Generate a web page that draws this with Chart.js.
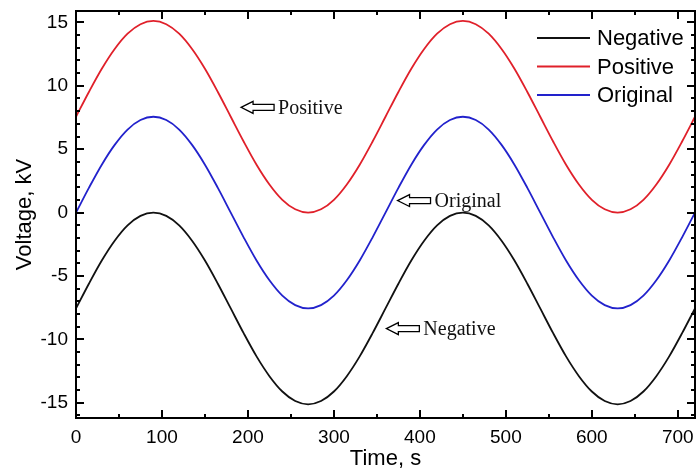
<!DOCTYPE html>
<html>
<head>
<meta charset="utf-8">
<script src="https://cdn.jsdelivr.net/npm/chart.js@4.4.1/dist/chart.umd.min.js"></script>
<style>
html,body{margin:0;padding:0;background:#fff;}
#wrap{width:698px;height:472px;}
</style>
</head>
<body>
<div id="wrap"><canvas id="c" width="698" height="472"></canvas></div>
<script>
// Time axis (s), sampled every 15 s
const times = [0,15,30,45,60,75,90,105,120,135,150,165,180,195,210,225,240,255,270,285,300,315,330,345,
  360,375,390,405,420,435,450,465,480,495,510,525,540,555,570,585,600,615,630,645,660,675,690,705,720];

const original = [0,1.95,3.78,5.34,6.55,7.3,7.56,7.3,6.55,5.34,3.78,1.95,0,-1.95,-3.78,-5.34,-6.55,-7.3,-7.56,-7.3,-6.55,-5.34,-3.78,-1.95,
  0,1.95,3.78,5.34,6.55,7.3,7.56,7.3,6.55,5.34,3.78,1.95,0,-1.95,-3.78,-5.34,-6.55,-7.3,-7.56,-7.3,-6.55,-5.34,-3.78,-1.95,0];

const positive = [7.56,9.51,11.34,12.9,14.11,14.86,15.12,14.86,14.11,12.9,11.34,9.51,7.56,5.61,3.78,2.22,1.01,0.26,0,0.26,1.01,2.22,3.78,5.61,
  7.56,9.51,11.34,12.9,14.11,14.86,15.12,14.86,14.11,12.9,11.34,9.51,7.56,5.61,3.78,2.22,1.01,0.26,0,0.26,1.01,2.22,3.78,5.61,7.56];

const negative = [-7.56,-5.61,-3.78,-2.22,-1.01,-0.26,0,-0.26,-1.01,-2.22,-3.78,-5.61,-7.56,-9.51,-11.34,-12.9,-14.11,-14.86,-15.12,-14.86,-14.11,-12.9,-11.34,-9.51,
  -7.56,-5.61,-3.78,-2.22,-1.01,-0.26,0,-0.26,-1.01,-2.22,-3.78,-5.61,-7.56,-9.51,-11.34,-12.9,-14.11,-14.86,-15.12,-14.86,-14.11,-12.9,-11.34,-9.51,-7.56];

const seriesNames = ['Negative','Positive','Original'];
const xTickValues = [0,100,200,300,400,500,600,700];
const yTickValues = [-15,-10,-5,0,5,10,15];

// annotation labels: [text, x, y] in data units (arrow tip position)
const annotations = [
  ['Positive', 192, 8.3],
  ['Original', 374, 0.95],
  ['Negative', 361, -9.15]
];

const colors = {Negative:'#111111', Positive:'#e0202a', Original:'#2222cc'};
const seriesData = {Negative: negative, Positive: positive, Original: original};

const datasets = seriesNames.map(n => ({
  label: n,
  data: times.map((t,i)=>({x:t, y:seriesData[n][i]})),
  borderColor: colors[n],
  borderWidth: 1.8,
  pointRadius: 0,
  cubicInterpolationMode: 'monotone',
  fill: false
}));

const frameTicks = {
  id: 'frameTicks',
  afterDatasetsDraw(chart) {
    const {ctx, chartArea: a, scales: {x, y}} = chart;
    ctx.save();
    ctx.strokeStyle = '#000';
    ctx.lineWidth = 2;
    ctx.strokeRect(a.left, a.top, a.right - a.left, a.bottom - a.top);
    ctx.lineWidth = 2;
    const major = 8, minor = 4;
    for (let v = 0; v <= 720; v += 50) {
      const px = Math.round(x.getPixelForValue(v)) ;
      const len = (v % 100 === 0) ? major : minor;
      ctx.beginPath();
      ctx.moveTo(px, a.bottom); ctx.lineTo(px, a.bottom - len);
      ctx.moveTo(px, a.top); ctx.lineTo(px, a.top + len);
      ctx.stroke();
    }
    for (let v = -16; v <= 15; v += 1) {
      const py = Math.round(y.getPixelForValue(v));
      const len = (v % 5 === 0) ? major : minor;
      ctx.beginPath();
      ctx.moveTo(a.left, py); ctx.lineTo(a.left + len, py);
      ctx.moveTo(a.right, py); ctx.lineTo(a.right - len, py);
      ctx.stroke();
    }
    // legend
    ctx.font = '22px "Liberation Sans", Arial, sans-serif';
    ctx.textBaseline = 'middle';
    ctx.textAlign = 'left';
    seriesNames.forEach((n, i) => {
      const ly = 38 + i * 28.5;
      ctx.strokeStyle = colors[n];
      ctx.lineWidth = 1.8;
      ctx.beginPath(); ctx.moveTo(537, ly); ctx.lineTo(590, ly); ctx.stroke();
      ctx.fillStyle = '#000';
      ctx.fillText(n, 597, ly + 1);
    });
    // annotations with hollow arrows
    ctx.font = '20px "Liberation Serif", "Times New Roman", serif';
    annotations.forEach(([t, vx, vy]) => {
      const px = x.getPixelForValue(vx), py = y.getPixelForValue(vy);
      ctx.strokeStyle = '#000';
      ctx.lineWidth = 1.3;
      ctx.beginPath();
      ctx.moveTo(px, py);
      ctx.lineTo(px + 12, py - 6);
      ctx.lineTo(px + 12, py - 3);
      ctx.lineTo(px + 33, py - 3);
      ctx.lineTo(px + 33, py + 3);
      ctx.lineTo(px + 12, py + 3);
      ctx.lineTo(px + 12, py + 6);
      ctx.closePath();
      ctx.stroke();
      ctx.fillStyle = '#111';
      ctx.fillText(t, px + 37, py + 1);
    });
    ctx.restore();
  }
};

new Chart(document.getElementById('c'), {
  type: 'line',
  data: {datasets},
  options: {
    responsive: false,
    animation: false,
    events: [],
    layout: {padding: {left: 0, top: 11, right: 3, bottom: 0}},
    plugins: {legend: {display: false}, tooltip: {enabled: false}},
    scales: {
      x: {
        type: 'linear', min: 0, max: 720,
        afterBuildTicks: s => { s.ticks = xTickValues.map(v => ({value: v})); },
        afterFit: s => { s.height = 54; s.paddingLeft = 0; s.paddingRight = 0; },
        grid: {display: false, drawTicks: false},
        border: {display: false},
        ticks: {color: '#000', padding: 8, font: {family: '"Liberation Sans", Arial, sans-serif', size: 19}, maxRotation: 0, autoSkip: false},
        title: {display: true, text: 'Time, s', color: '#000', font: {family: '"Liberation Sans", Arial, sans-serif', size: 22}, padding: {top: 0, bottom: 0}}
      },
      y: {
        type: 'linear', min: -16.2, max: 15.9,
        afterBuildTicks: s => { s.ticks = yTickValues.map(v => ({value: v})); },
        afterFit: s => { s.width = 76; s.paddingTop = 0; s.paddingBottom = 0; },
        grid: {display: false, drawTicks: false},
        border: {display: false},
        ticks: {color: '#000', padding: 8, font: {family: '"Liberation Sans", Arial, sans-serif', size: 19}, autoSkip: false},
        title: {display: true, text: 'Voltage, kV', color: '#000', font: {family: '"Liberation Sans", Arial, sans-serif', size: 22}, padding: {top: 12, bottom: 0}}
      }
    }
  },
  plugins: [frameTicks]
});
</script>
</body>
</html>
